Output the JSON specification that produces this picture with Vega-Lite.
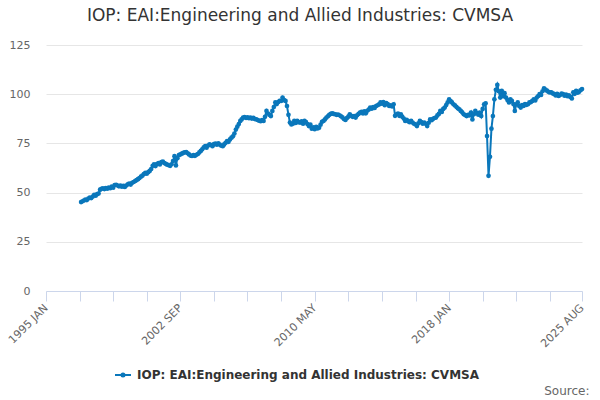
{
  "$schema": "https://vega.github.io/schema/vega-lite/v6.json",
  "width": 536,
  "height": 246,
  "autosize": "none",
  "padding": {"left": 46, "top": 45, "right": 18, "bottom": 109},
  "background": "white",
  "config": {"font": "DejaVu Sans", "view": {"stroke": null}},
  "title": {
    "text": "IOP: EAI:Engineering and Allied Industries: CVMSA",
    "fontSize": 17,
    "fontWeight": "normal",
    "color": "#333333",
    "anchor": "middle",
    "dx": -14,
    "offset": 14
  },
  "data": {
    "values": [
      {"d":"1997-01","v":45.2},{"d":"1997-02","v":45.6},{"d":"1997-03","v":46.0},{"d":"1997-04","v":46.5},{"d":"1997-05","v":46.2},{"d":"1997-06","v":47.0},{"d":"1997-07","v":47.5},{"d":"1997-08","v":47.2},{"d":"1997-09","v":48.0},{"d":"1997-10","v":48.8},{"d":"1997-11","v":48.4},{"d":"1997-12","v":49.2},
      {"d":"1998-01","v":49.5},{"d":"1998-02","v":51.5},{"d":"1998-03","v":51.9},{"d":"1998-04","v":52.2},{"d":"1998-05","v":51.8},{"d":"1998-06","v":52.3},{"d":"1998-07","v":52.0},{"d":"1998-08","v":52.6},{"d":"1998-09","v":52.2},{"d":"1998-10","v":53.0},{"d":"1998-11","v":52.5},{"d":"1998-12","v":53.8},
      {"d":"1999-01","v":54.0},{"d":"1999-02","v":53.6},{"d":"1999-03","v":53.2},{"d":"1999-04","v":53.5},{"d":"1999-05","v":53.0},{"d":"1999-06","v":53.4},{"d":"1999-07","v":52.9},{"d":"1999-08","v":53.6},{"d":"1999-09","v":54.2},{"d":"1999-10","v":54.6},{"d":"1999-11","v":54.1},{"d":"1999-12","v":55.0},
      {"d":"2000-01","v":55.4},{"d":"2000-02","v":55.9},{"d":"2000-03","v":56.3},{"d":"2000-04","v":56.8},{"d":"2000-05","v":57.4},{"d":"2000-06","v":58.1},{"d":"2000-07","v":58.6},{"d":"2000-08","v":59.4},{"d":"2000-09","v":60.0},{"d":"2000-10","v":59.6},{"d":"2000-11","v":60.4},{"d":"2000-12","v":61.0},
      {"d":"2001-01","v":62.0},{"d":"2001-02","v":63.6},{"d":"2001-03","v":64.3},{"d":"2001-04","v":63.5},{"d":"2001-05","v":64.5},{"d":"2001-06","v":65.0},{"d":"2001-07","v":64.3},{"d":"2001-08","v":65.5},{"d":"2001-09","v":65.8},{"d":"2001-10","v":65.0},{"d":"2001-11","v":64.6},{"d":"2001-12","v":64.2},
      {"d":"2002-01","v":63.9},{"d":"2002-02","v":63.6},{"d":"2002-03","v":64.4},{"d":"2002-04","v":66.0},{"d":"2002-05","v":68.5},{"d":"2002-06","v":63.8},{"d":"2002-07","v":67.5},{"d":"2002-08","v":69.0},{"d":"2002-09","v":69.4},{"d":"2002-10","v":69.8},{"d":"2002-11","v":70.2},{"d":"2002-12","v":70.4},
      {"d":"2003-01","v":70.6},{"d":"2003-02","v":70.0},{"d":"2003-03","v":69.4},{"d":"2003-04","v":68.8},{"d":"2003-05","v":68.6},{"d":"2003-06","v":69.0},{"d":"2003-07","v":68.7},{"d":"2003-08","v":69.2},{"d":"2003-09","v":69.6},{"d":"2003-10","v":70.4},{"d":"2003-11","v":71.2},{"d":"2003-12","v":72.0},
      {"d":"2004-01","v":73.0},{"d":"2004-02","v":73.6},{"d":"2004-03","v":72.8},{"d":"2004-04","v":73.9},{"d":"2004-05","v":74.5},{"d":"2004-06","v":74.2},{"d":"2004-07","v":73.6},{"d":"2004-08","v":74.6},{"d":"2004-09","v":74.9},{"d":"2004-10","v":74.3},{"d":"2004-11","v":75.0},{"d":"2004-12","v":74.4},
      {"d":"2005-01","v":73.8},{"d":"2005-02","v":73.6},{"d":"2005-03","v":74.5},{"d":"2005-04","v":75.3},{"d":"2005-05","v":76.2},{"d":"2005-06","v":75.8},{"d":"2005-07","v":77.0},{"d":"2005-08","v":77.9},{"d":"2005-09","v":78.6},{"d":"2005-10","v":80.0},{"d":"2005-11","v":82.0},{"d":"2005-12","v":83.5},
      {"d":"2006-01","v":84.8},{"d":"2006-02","v":86.4},{"d":"2006-03","v":87.2},{"d":"2006-04","v":88.1},{"d":"2006-05","v":88.4},{"d":"2006-06","v":87.9},{"d":"2006-07","v":88.3},{"d":"2006-08","v":87.8},{"d":"2006-09","v":88.1},{"d":"2006-10","v":87.6},{"d":"2006-11","v":88.0},{"d":"2006-12","v":87.4},
      {"d":"2007-01","v":87.2},{"d":"2007-02","v":86.9},{"d":"2007-03","v":86.5},{"d":"2007-04","v":86.3},{"d":"2007-05","v":86.8},{"d":"2007-06","v":86.4},{"d":"2007-07","v":88.5},{"d":"2007-08","v":91.5},{"d":"2007-09","v":90.2},{"d":"2007-10","v":89.5},{"d":"2007-11","v":88.9},{"d":"2007-12","v":91.5},
      {"d":"2008-01","v":93.5},{"d":"2008-02","v":95.8},{"d":"2008-03","v":95.0},{"d":"2008-04","v":96.0},{"d":"2008-05","v":96.6},{"d":"2008-06","v":96.6},{"d":"2008-07","v":98.3},{"d":"2008-08","v":97.0},{"d":"2008-09","v":96.6},{"d":"2008-10","v":94.0},{"d":"2008-11","v":89.5},{"d":"2008-12","v":85.6},
      {"d":"2009-01","v":84.6},{"d":"2009-02","v":85.0},{"d":"2009-03","v":86.4},{"d":"2009-04","v":85.4},{"d":"2009-05","v":86.4},{"d":"2009-06","v":85.8},{"d":"2009-07","v":85.6},{"d":"2009-08","v":86.2},{"d":"2009-09","v":85.0},{"d":"2009-10","v":86.4},{"d":"2009-11","v":85.8},{"d":"2009-12","v":84.8},
      {"d":"2010-01","v":83.8},{"d":"2010-02","v":84.5},{"d":"2010-03","v":82.5},{"d":"2010-04","v":83.2},{"d":"2010-05","v":82.2},{"d":"2010-06","v":83.4},{"d":"2010-07","v":82.6},{"d":"2010-08","v":83.0},{"d":"2010-09","v":84.5},{"d":"2010-10","v":86.0},{"d":"2010-11","v":86.4},{"d":"2010-12","v":87.2},
      {"d":"2011-01","v":88.1},{"d":"2011-02","v":88.8},{"d":"2011-03","v":89.5},{"d":"2011-04","v":90.0},{"d":"2011-05","v":90.3},{"d":"2011-06","v":90.0},{"d":"2011-07","v":89.8},{"d":"2011-08","v":89.5},{"d":"2011-09","v":89.6},{"d":"2011-10","v":89.3},{"d":"2011-11","v":88.8},{"d":"2011-12","v":88.2},
      {"d":"2012-01","v":87.4},{"d":"2012-02","v":86.9},{"d":"2012-03","v":87.8},{"d":"2012-04","v":88.6},{"d":"2012-05","v":89.8},{"d":"2012-06","v":89.0},{"d":"2012-07","v":88.5},{"d":"2012-08","v":88.9},{"d":"2012-09","v":88.1},{"d":"2012-10","v":89.3},{"d":"2012-11","v":90.0},{"d":"2012-12","v":90.6},
      {"d":"2013-01","v":91.0},{"d":"2013-02","v":90.2},{"d":"2013-03","v":91.3},{"d":"2013-04","v":90.3},{"d":"2013-05","v":91.6},{"d":"2013-06","v":92.2},{"d":"2013-07","v":93.2},{"d":"2013-08","v":92.6},{"d":"2013-09","v":93.5},{"d":"2013-10","v":93.0},{"d":"2013-11","v":94.0},{"d":"2013-12","v":94.4},
      {"d":"2014-01","v":94.8},{"d":"2014-02","v":95.8},{"d":"2014-03","v":95.2},{"d":"2014-04","v":96.0},{"d":"2014-05","v":94.4},{"d":"2014-06","v":95.5},{"d":"2014-07","v":95.0},{"d":"2014-08","v":94.0},{"d":"2014-09","v":94.3},{"d":"2014-10","v":93.8},{"d":"2014-11","v":94.9},{"d":"2014-12","v":89.0},
      {"d":"2015-01","v":89.8},{"d":"2015-02","v":90.2},{"d":"2015-03","v":89.0},{"d":"2015-04","v":89.8},{"d":"2015-05","v":88.5},{"d":"2015-06","v":87.6},{"d":"2015-07","v":86.4},{"d":"2015-08","v":87.0},{"d":"2015-09","v":86.2},{"d":"2015-10","v":85.8},{"d":"2015-11","v":86.4},{"d":"2015-12","v":85.6},
      {"d":"2016-01","v":85.0},{"d":"2016-02","v":84.6},{"d":"2016-03","v":83.8},{"d":"2016-04","v":85.2},{"d":"2016-05","v":86.4},{"d":"2016-06","v":85.8},{"d":"2016-07","v":85.0},{"d":"2016-08","v":85.6},{"d":"2016-09","v":85.0},{"d":"2016-10","v":83.8},{"d":"2016-11","v":85.5},{"d":"2016-12","v":87.2},
      {"d":"2017-01","v":86.8},{"d":"2017-02","v":87.5},{"d":"2017-03","v":87.9},{"d":"2017-04","v":88.1},{"d":"2017-05","v":89.2},{"d":"2017-06","v":90.0},{"d":"2017-07","v":91.5},{"d":"2017-08","v":91.0},{"d":"2017-09","v":92.5},{"d":"2017-10","v":93.2},{"d":"2017-11","v":94.5},{"d":"2017-12","v":95.8},
      {"d":"2018-01","v":97.4},{"d":"2018-02","v":96.5},{"d":"2018-03","v":95.8},{"d":"2018-04","v":94.9},{"d":"2018-05","v":94.3},{"d":"2018-06","v":93.6},{"d":"2018-07","v":92.8},{"d":"2018-08","v":92.3},{"d":"2018-09","v":91.5},{"d":"2018-10","v":90.8},{"d":"2018-11","v":89.8},{"d":"2018-12","v":89.4},
      {"d":"2019-01","v":88.9},{"d":"2019-02","v":89.5},{"d":"2019-03","v":89.2},{"d":"2019-04","v":90.7},{"d":"2019-05","v":87.2},{"d":"2019-06","v":89.8},{"d":"2019-07","v":91.5},{"d":"2019-08","v":90.4},{"d":"2019-09","v":89.6},{"d":"2019-10","v":90.7},{"d":"2019-11","v":88.9},{"d":"2019-12","v":92.5},
      {"d":"2020-01","v":94.9},{"d":"2020-02","v":95.4},{"d":"2020-03","v":78.7},{"d":"2020-04","v":58.5},{"d":"2020-05","v":68.2},{"d":"2020-06","v":82.5},{"d":"2020-07","v":88.9},{"d":"2020-08","v":97.4},{"d":"2020-09","v":102.2},{"d":"2020-10","v":104.7},{"d":"2020-11","v":101.5},{"d":"2020-12","v":98.3},
      {"d":"2021-01","v":101.7},{"d":"2021-02","v":99.0},{"d":"2021-03","v":100.5},{"d":"2021-04","v":98.3},{"d":"2021-05","v":97.0},{"d":"2021-06","v":95.8},{"d":"2021-07","v":97.4},{"d":"2021-08","v":96.6},{"d":"2021-09","v":95.0},{"d":"2021-10","v":91.5},{"d":"2021-11","v":94.9},{"d":"2021-12","v":95.8},
      {"d":"2022-01","v":94.0},{"d":"2022-02","v":93.2},{"d":"2022-03","v":94.5},{"d":"2022-04","v":94.0},{"d":"2022-05","v":95.0},{"d":"2022-06","v":94.6},{"d":"2022-07","v":94.9},{"d":"2022-08","v":95.8},{"d":"2022-09","v":96.0},{"d":"2022-10","v":96.6},{"d":"2022-11","v":97.4},{"d":"2022-12","v":96.8},
      {"d":"2023-01","v":98.3},{"d":"2023-02","v":99.1},{"d":"2023-03","v":100.0},{"d":"2023-04","v":99.6},{"d":"2023-05","v":101.5},{"d":"2023-06","v":103.0},{"d":"2023-07","v":102.4},{"d":"2023-08","v":101.8},{"d":"2023-09","v":101.2},{"d":"2023-10","v":100.9},{"d":"2023-11","v":101.0},{"d":"2023-12","v":100.4},
      {"d":"2024-01","v":100.0},{"d":"2024-02","v":99.4},{"d":"2024-03","v":100.2},{"d":"2024-04","v":99.1},{"d":"2024-05","v":99.6},{"d":"2024-06","v":100.3},{"d":"2024-07","v":100.0},{"d":"2024-08","v":99.2},{"d":"2024-09","v":99.8},{"d":"2024-10","v":99.0},{"d":"2024-11","v":99.4},{"d":"2024-12","v":98.6},
      {"d":"2025-01","v":97.8},{"d":"2025-02","v":101.0},{"d":"2025-03","v":100.2},{"d":"2025-04","v":101.7},{"d":"2025-05","v":100.8},{"d":"2025-06","v":101.2},{"d":"2025-07","v":102.0},{"d":"2025-08","v":102.6}
    ]
  },
  "mark": {"type": "line", "strokeWidth": 2, "point": {"size": 22, "filled": true, "opacity": 1}},
  "encoding": {
    "x": {
      "field": "d",
      "type": "temporal",
      "scale": {
        "type": "utc",
        "domain": [
          {"year": 1995, "month": 1, "date": 1, "utc": true},
          {"year": 2025, "month": 8, "date": 1, "utc": true}
        ]
      },
      "axis": {
        "values": [
          {"year": 1995, "month": 1, "date": 1, "utc": true},
          {"year": 1996, "month": 12, "date": 1, "utc": true},
          {"year": 1998, "month": 11, "date": 1, "utc": true},
          {"year": 2000, "month": 10, "date": 1, "utc": true},
          {"year": 2002, "month": 9, "date": 1, "utc": true},
          {"year": 2004, "month": 8, "date": 1, "utc": true},
          {"year": 2006, "month": 7, "date": 1, "utc": true},
          {"year": 2008, "month": 6, "date": 1, "utc": true},
          {"year": 2010, "month": 5, "date": 1, "utc": true},
          {"year": 2012, "month": 4, "date": 1, "utc": true},
          {"year": 2014, "month": 3, "date": 1, "utc": true},
          {"year": 2016, "month": 2, "date": 1, "utc": true},
          {"year": 2018, "month": 1, "date": 1, "utc": true},
          {"year": 2019, "month": 12, "date": 1, "utc": true},
          {"year": 2021, "month": 11, "date": 1, "utc": true},
          {"year": 2023, "month": 10, "date": 1, "utc": true},
          {"year": 2025, "month": 8, "date": 1, "utc": true}
        ],
        "labelExpr": "indexof(['1995 JAN','2002 SEP','2010 MAY','2018 JAN','2025 AUG'], upper(utcFormat(datum.value, '%Y %b'))) >= 0 ? upper(utcFormat(datum.value, '%Y %b')) : ''",
        "labelAngle": -45,
        "labelAlign": "right",
        "labelBaseline": "middle",
        "labelPadding": 5,
        "labelFontSize": 11,
        "labelColor": "#666666",
        "labelOverlap": false,
        "labelFlush": false,
        "tickColor": "#ccd6eb",
        "tickSize": 10,
        "domainColor": "#ccd6eb",
        "grid": false,
        "title": "Source:",
        "titleAnchor": "end",
        "titleAlign": "right",
        "titleBaseline": "alphabetic",
        "titleX": 543,
        "titleY": 103,
        "titleFontSize": 12,
        "titleFontWeight": "normal",
        "titleColor": "#666666"
      }
    },
    "y": {
      "field": "v",
      "type": "quantitative",
      "scale": {"domain": [0, 125], "nice": false},
      "axis": {
        "values": [0, 25, 50, 75, 100, 125],
        "title": null,
        "grid": true,
        "gridColor": "#e6e6e6",
        "domain": false,
        "ticks": false,
        "labelPadding": 16,
        "labelFontSize": 11,
        "labelColor": "#666666"
      }
    },
    "color": {
      "datum": "IOP: EAI:Engineering and Allied Industries: CVMSA",
      "type": "nominal",
      "scale": {"range": ["#0a77bb"]},
      "legend": {
        "title": null,
        "orient": "none",
        "legendX": 68,
        "legendY": 321,
        "padding": 0,
        "symbolType": "M-1,0L1,0M-0.19,0A0.19,0.19,0,1,1,0.19,0A0.19,0.19,0,1,1,-0.19,0",
        "symbolSize": 256,
        "symbolStrokeWidth": 2,
        "labelFontSize": 12,
        "labelFontWeight": "bold",
        "labelColor": "#333333",
        "labelOffset": 5,
        "labelLimit": 0
      }
    }
  }
}
